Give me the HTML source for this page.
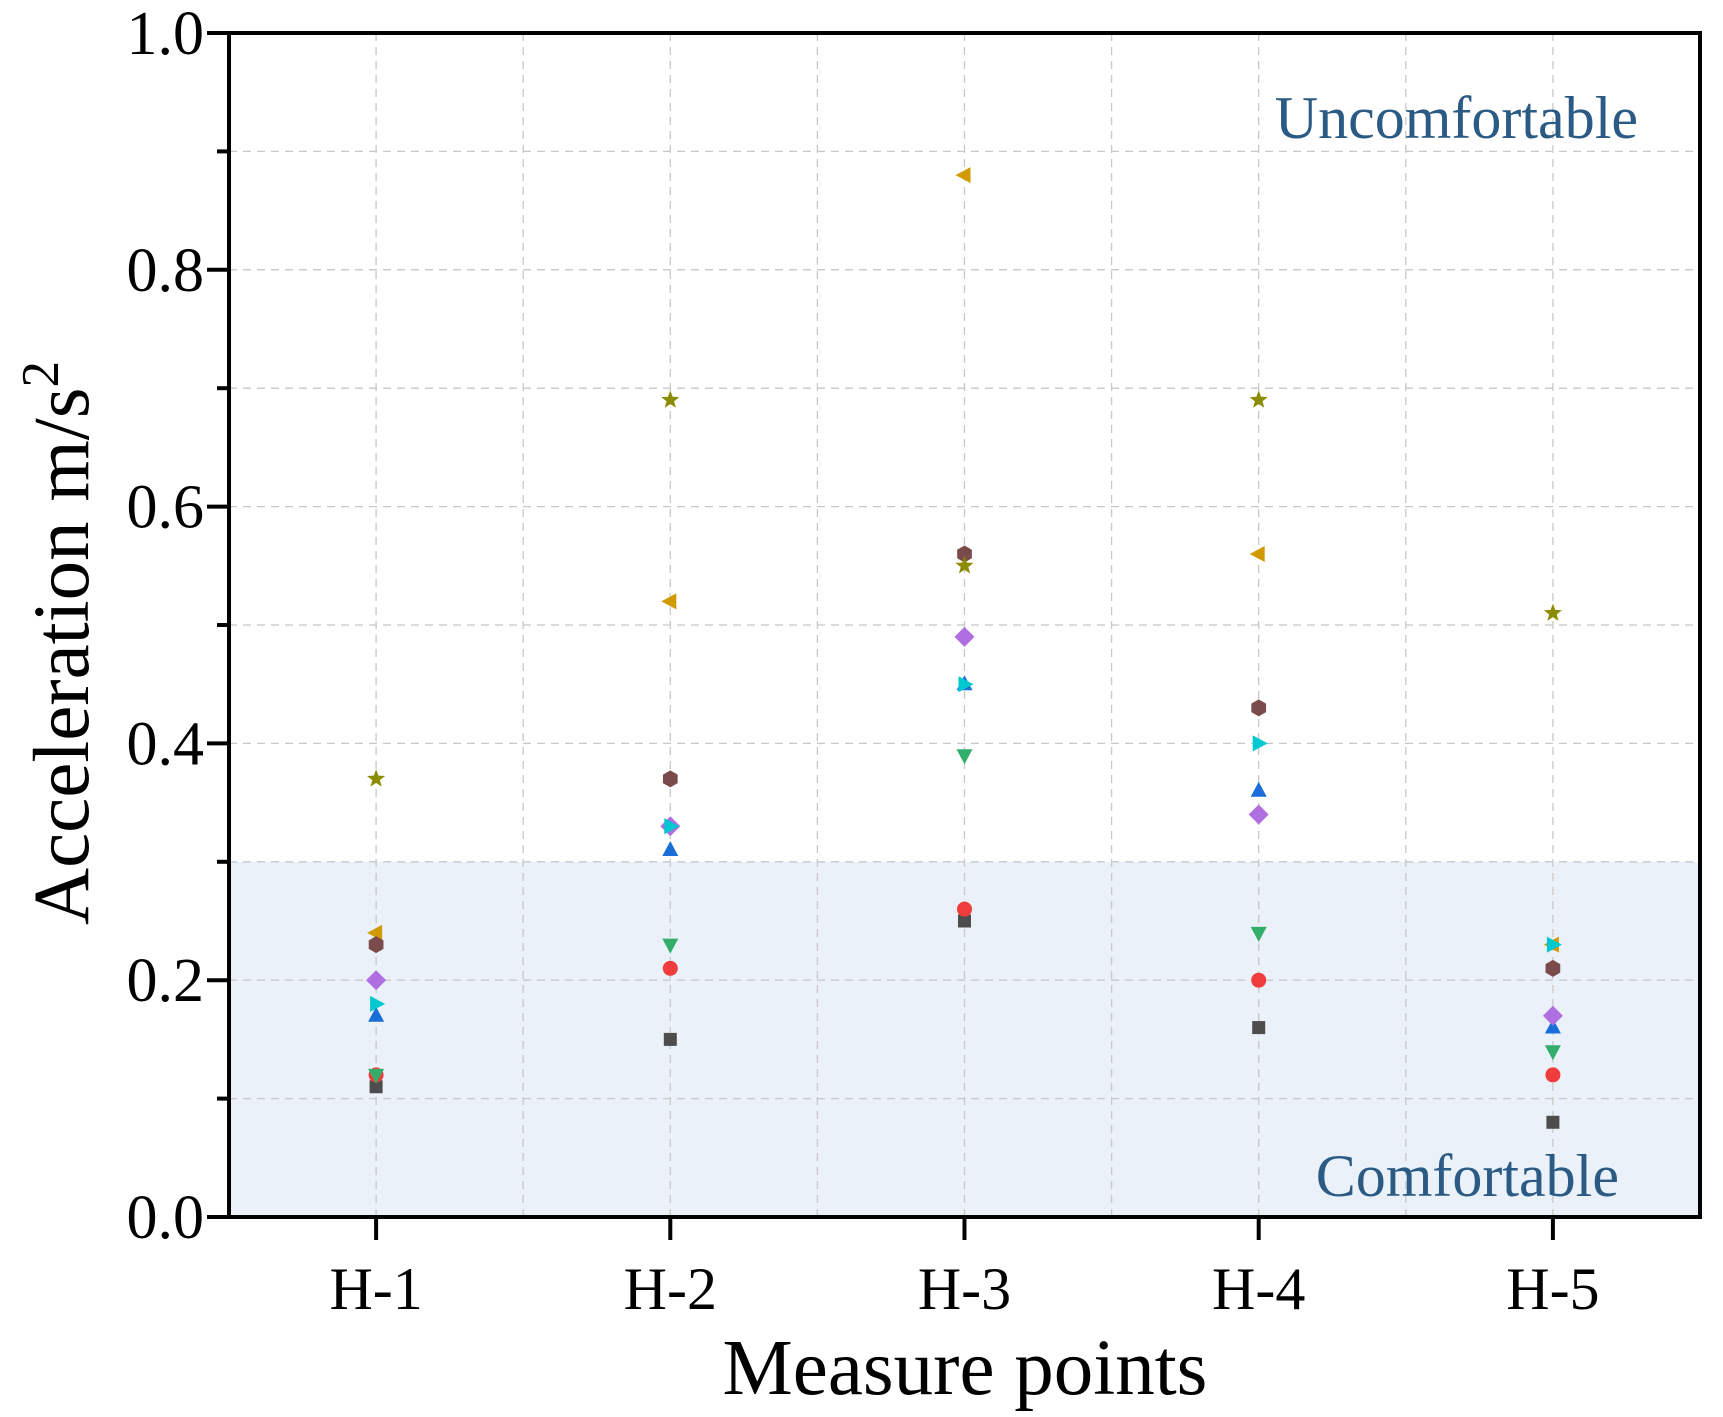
<!DOCTYPE html>
<html><head><meta charset="utf-8"><style>
html,body{margin:0;padding:0;background:#fff}
svg{display:block;font-family:"Liberation Serif",serif}
</style></head><body>
<svg id="chart" width="1723" height="1417" viewBox="0 0 1723 1417" xmlns="http://www.w3.org/2000/svg">
<g id="g"></g>
</svg>
<script>
const categories=["H-1","H-2","H-3","H-4","H-5"];
const yTicks=[0,0.2,0.4,0.6,0.8,1.0];
const yTickLabels=["0.0","0.2","0.4","0.6","0.8","1.0"];
const comfortLimit=0.3;
const sSquare=[0.11,0.15,0.25,0.16,0.08];
const sCircle=[0.12,0.21,0.26,0.20,0.12];
const sUp=[0.17,0.31,0.45,0.36,0.16];
const sDown=[0.12,0.23,0.39,0.24,0.14];
const sDiamond=[0.20,0.33,0.49,0.34,0.17];
const sLeft=[0.24,0.52,0.88,0.56,0.23];
const sHex=[0.23,0.37,0.56,0.43,0.21];
const sStar=[0.37,0.69,0.55,0.69,0.51];
const sRight=[0.18,0.33,0.45,0.40,0.23];

const L=229,R=1700,T=33,B=1217;
const NS="http://www.w3.org/2000/svg";
const g=document.getElementById('g');
function X(i){return L+(i+0.5)*(R-L)/categories.length;}
function Y(v){return B-v*(B-T);}
function el(tag,attrs,parent){const e=document.createElementNS(NS,tag);for(const k in attrs)e.setAttribute(k,attrs[k]);(parent||g).appendChild(e);return e;}

let r=el('rect',{x:L,y:Y(comfortLimit),width:R-L,height:B-Y(comfortLimit),fill:'#eaf1f8'});



for(let k=1;k<10;k++){const v=k/10;let l=el('line',{x1:L,x2:R,y1:Y(v),y2:Y(v),stroke:'#c8c8c8','stroke-width':1.3,'stroke-dasharray':'8,6'});

}
for(let k=1;k<10;k++){const x=L+k*(R-L)/10;let l=el('line',{x1:x,x2:x,y1:T,y2:B,stroke:'#c8c8c8','stroke-width':1.3,'stroke-dasharray':'8,6'});

}

function tf(txt,attrs,name){const t=el('text',attrs);t.textContent=txt;

return t;}
tf('Uncomfortable',{x:1638,y:138,'text-anchor':'end','font-size':60,fill:'#2b5a84'},'uncomfortable-label');
tf('Comfortable',{x:1619,y:1196,'text-anchor':'end','font-size':60,fill:'#2b5a84'},'comfortable-label');

function shape(type,cx,cy,color){
  let e;
  if(type==='square')e=el('rect',{x:cx-6.5,y:cy-6.5,width:13,height:13,fill:color});
  else if(type==='circle')e=el('circle',{cx:cx,cy:cy,r:7.5,fill:color});
  else if(type==='hex'){let p=[];for(let i=0;i<6;i++){const a=Math.PI/6+i*Math.PI/3;p.push((cx+8.5*Math.cos(a))+','+(cy+8.5*Math.sin(a)));}e=el('polygon',{points:p.join(' '),fill:color});}
  else if(type==='star'){let p=[];for(let i=0;i<10;i++){const a=-Math.PI/2+i*Math.PI/5;const rr=i%2?4:9.5;p.push((cx+rr*Math.cos(a))+','+(cy+rr*Math.sin(a)));}e=el('polygon',{points:p.join(' '),fill:color});}
  else if(type==='diamond')e=el('polygon',{points:`${cx},${cy-10} ${cx+10},${cy} ${cx},${cy+10} ${cx-10},${cy}`,fill:color});
  else if(type==='up')e=el('polygon',{points:`${cx},${cy-9} ${cx+8},${cy+6} ${cx-8},${cy+6}`,fill:color});
  else if(type==='down')e=el('polygon',{points:`${cx},${cy+9} ${cx+8},${cy-6} ${cx-8},${cy-6}`,fill:color});
  else if(type==='left')e=el('polygon',{points:`${cx-9},${cy} ${cx+6},${cy-8} ${cx+6},${cy+8}`,fill:color});
  else if(type==='right')e=el('polygon',{points:`${cx+9},${cy} ${cx-6},${cy-8} ${cx-6},${cy+8}`,fill:color});
  return e;
}
const seriesList=[[sSquare,'square','#4d4d4d'],[sCircle,'circle','#f03c3c'],[sUp,'up','#1a6ed8'],[sDown,'down','#33ad6a'],[sDiamond,'diamond','#b06fe0'],[sLeft,'left','#d09a00'],[sHex,'hex','#7b4a4a'],[sStar,'star','#8c8c00'],[sRight,'right','#00c8d0']];
seriesList.forEach(([vals,type,color])=>{vals.forEach((v,i)=>{const m=shape(type,X(i),Y(v),color);

});});

let fr=el('rect',{x:L,y:T,width:R-L,height:B-T,fill:'none',stroke:'#000','stroke-width':4});



for(let k=0;k<=10;k++){const v=k/10;const major=k%2===0;let t=el('line',{x1:L-(major?22:12),x2:L,y1:Y(v),y2:Y(v),stroke:'#000','stroke-width':4});

}
yTicks.forEach((v,i)=>{tf(yTickLabels[i],{x:204,y:Y(v)+21,'text-anchor':'end','font-size':62,fill:'#000'},'y-tick-label');});
categories.forEach((c,i)=>{let t=el('line',{x1:X(i),x2:X(i),y1:B,y2:B+23,stroke:'#000','stroke-width':4});


tf(c,{x:X(i),y:1309,'text-anchor':'middle','font-size':60,fill:'#000'},'x-tick-label');});

tf('Measure points',{x:965,y:1394,'text-anchor':'middle','font-size':79,fill:'#000'},'x-axis-title');
const yl=el('text',{x:0,y:0,transform:'translate(88,643) rotate(-90)','text-anchor':'middle','font-size':79,fill:'#000'});


yl.textContent='Acceleration m/s';
const sup=el('tspan',{dy:-30,'font-size':53},yl);sup.textContent='2';
</script>
</body></html>
